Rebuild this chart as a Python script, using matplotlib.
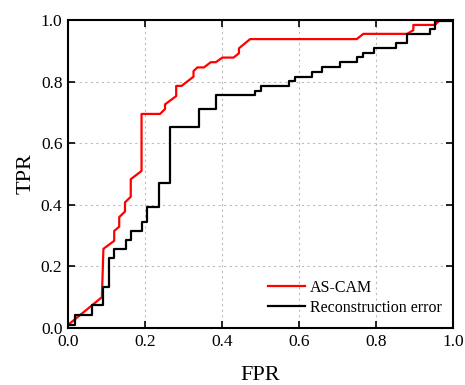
import matplotlib
matplotlib.use("Agg")
import matplotlib.pyplot as plt

# AS-CAM ROC curve (vertices)
ascam_fpr = [0.005, 0.088, 0.092, 0.120, 0.120, 0.133, 0.133, 0.148, 0.148, 0.163,
             0.163, 0.191, 0.191, 0.239, 0.252, 0.252, 0.281, 0.281, 0.295, 0.326,
             0.326, 0.336, 0.353, 0.371, 0.384, 0.401, 0.430, 0.444, 0.444, 0.473,
             0.750, 0.767, 0.881, 0.897, 0.897, 0.953, 0.966, 1.0]
ascam_tpr = [0.015, 0.100, 0.257, 0.283, 0.315, 0.329, 0.360, 0.378, 0.408, 0.426,
             0.483, 0.510, 0.695, 0.695, 0.711, 0.726, 0.753, 0.786, 0.786, 0.816,
             0.834, 0.846, 0.846, 0.863, 0.863, 0.878, 0.878, 0.892, 0.908, 0.938,
             0.938, 0.955, 0.955, 0.967, 0.984, 0.984, 1.0, 1.0]

# Reconstruction error ROC curve (step corners)
rec_fpr = [0.005, 0.018, 0.062, 0.092, 0.107, 0.120, 0.150, 0.164, 0.193, 0.206,
           0.236, 0.265, 0.339, 0.384, 0.486, 0.501, 0.575, 0.590, 0.633, 0.661,
           0.706, 0.751, 0.765, 0.795, 0.852, 0.881, 0.940, 0.953, 1.0]
rec_tpr = [0.010, 0.042, 0.075, 0.134, 0.226, 0.256, 0.286, 0.315, 0.345, 0.392,
           0.470, 0.652, 0.711, 0.756, 0.770, 0.786, 0.802, 0.816, 0.832, 0.848,
           0.863, 0.879, 0.894, 0.908, 0.924, 0.955, 0.970, 0.997, 1.0]

ticks = [0.0, 0.2, 0.4, 0.6, 0.8, 1.0]

plt.rcParams["font.family"] = ["Liberation Serif", "DejaVu Serif"]

fig = plt.figure(figsize=(4.65, 3.85), dpi=100)
ax = fig.add_axes([68 / 465, 1 - 328 / 385, 385 / 465, 308 / 385])

ax.plot(ascam_fpr, ascam_tpr, color="#ff0000", lw=1.6, label="AS-CAM")
ax.step(rec_fpr, rec_tpr, where="post", color="black", lw=1.6,
        label="Reconstruction error")

ax.set_xlim(0, 1)
ax.set_ylim(0, 1)
ax.set_xticks(ticks)
ax.set_yticks(ticks)
ax.set_xticklabels([f"{t:.1f}" for t in ticks])
ax.set_yticklabels([f"{t:.1f}" for t in ticks])
ax.tick_params(direction="in", length=5, width=1.2, top=True, right=True,
               labelsize=12.5, pad=4)
ax.grid(True, color="#bbbbbb", ls=(0, (2, 3)), lw=0.8)
for s in ax.spines.values():
    s.set_linewidth(1.5)

ax.set_xlabel("FPR", fontsize=16, labelpad=12)
ax.set_ylabel("TPR", fontsize=16, labelpad=4)

ax.legend(loc="lower right", bbox_to_anchor=(1.0, 0.004), frameon=False,
          fontsize=11.5, handlelength=2.3, handletextpad=0.3,
          borderaxespad=0.3, labelspacing=0.25)

fig.savefig("out.png", dpi=100)
